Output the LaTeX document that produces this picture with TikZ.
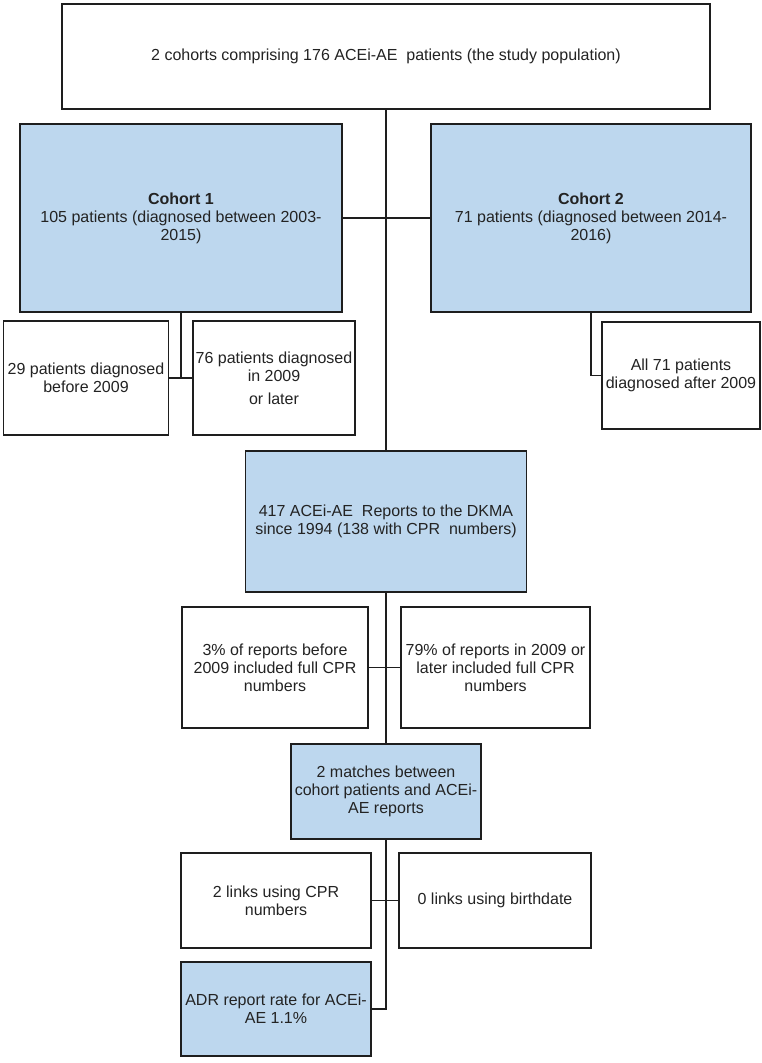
\documentclass[tikz,border=0pt]{standalone}
\usepackage{fontspec}
\setmainfont{Liberation Sans}
\definecolor{boxblue}{RGB}{189,215,238}
\definecolor{linec}{RGB}{30,30,30}
\definecolor{textc}{RGB}{35,35,35}
\begin{document}
\begin{tikzpicture}[x=1pt,y=-1pt,
  box/.style={draw=linec,line width=1.6pt,rectangle,align=center,inner sep=0pt,text=textc,
    font=\fontsize{16}{18}\selectfont},
  bluebox/.style={box,fill=boxblue},
  conn/.style={draw=linec,line width=1.6pt}]
\useasboundingbox (0,0) rectangle (762,1063);
\fill[white] (0,0) rectangle (762,1063);

\node[box,minimum width=648pt,minimum height=105pt] (top) at (386,56.5)
  {2 cohorts comprising 176 ACEi-AE\ \ patients (the study population)};

\node[bluebox,minimum width=322pt,minimum height=188pt] (c1) at (181,218)
  {\textbf{Cohort 1}\\105 patients (diagnosed between 2003-\\2015)};
\node[bluebox,minimum width=320pt,minimum height=188pt] (c2) at (591,218)
  {\textbf{Cohort 2}\\71 patients (diagnosed between 2014-\\2016)};

\node[box,minimum width=165pt,minimum height=114pt] (a) at (86,378)
  {29 patients diagnosed\\before 2009};
\node[box,minimum width=162pt,minimum height=114pt] (b) at (274,378)
  {76 patients diagnosed\\in 2009\\[5pt]or later};
\node[box,minimum width=158pt,minimum height=107pt] (c) at (681,375.5)
  {All 71 patients\\diagnosed after 2009};

\node[bluebox,minimum width=281pt,minimum height=141pt] (dkma) at (386,521.5)
  {417 ACEi-AE\ \ Reports to the DKMA\\since 1994 (138 with CPR\ \ numbers)};

\node[box,minimum width=186pt,minimum height=121pt] (p3) at (275,667.5)
  {3\% of reports before\\2009 included full CPR\\numbers};
\node[box,minimum width=189pt,minimum height=121pt] (p79) at (495.5,667.5)
  {79\% of reports in 2009 or\\later included full CPR\\numbers};

\node[bluebox,minimum width=190pt,minimum height=95pt] (m2) at (386,791.5)
  {2 matches between\\cohort patients and ACEi-\\AE reports};

\node[box,minimum width=190pt,minimum height=95pt] (l2) at (276,900.5)
  {2 links using CPR\\numbers};
\node[box,minimum width=192pt,minimum height=95pt] (l0) at (495,900.5)
  {0 links using birthdate};

\node[bluebox,minimum width=190pt,minimum height=94pt] (adr) at (276,1009)
  {ADR report rate for ACEi-\\AE 1.1\%};

\draw[conn] (top.south) -- (dkma.north);
\draw[conn] (c1.east) -- (c2.west);
\draw[conn] (c1.south) -- (c1.south |- a.east);
\draw[conn] (a.east) -- (b.west);
\draw[conn] (c2.south) |- (c.west);
\draw[conn] (dkma.south) -- (m2.north);
\draw[conn] (p3.east) -- (p79.west);
\draw[conn] (m2.south) |- (adr.east);
\draw[conn] (l2.east) -- (l0.west);
\end{tikzpicture}
\end{document}
